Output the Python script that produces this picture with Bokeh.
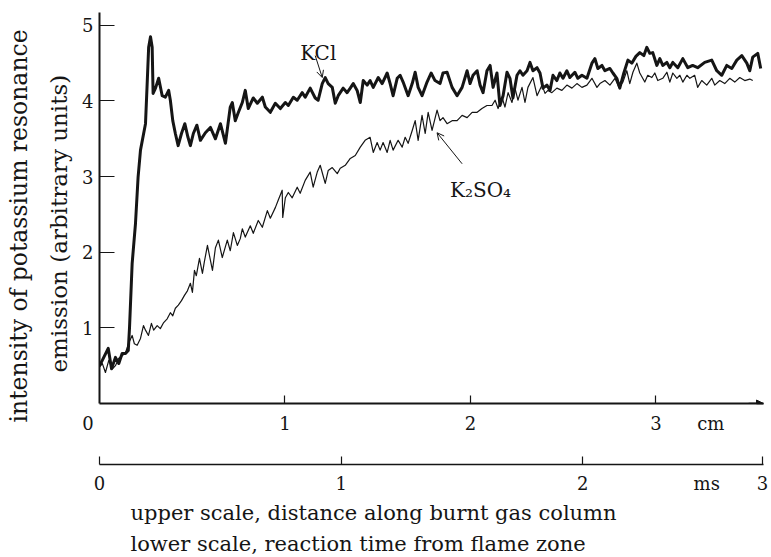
from bokeh.plotting import figure
from bokeh.models import (FixedTicker, LinearAxis, Label, Title, Arrow, NormalHead,
                          OpenHead, Range1d)
from bokeh.embed import file_html
from bokeh.resources import INLINE

# ---------------- data (distance in cm, intensity in arbitrary units) ----------------
kcl_x = [0.000, 0.015, 0.047, 0.065, 0.086, 0.104, 0.122, 0.140, 0.155, 0.162, 0.176, 0.194,
         0.208, 0.221, 0.248, 0.257, 0.265, 0.275, 0.284, 0.289, 0.302, 0.319, 0.338, 0.355,
         0.373, 0.382, 0.395, 0.409, 0.424, 0.442, 0.460, 0.477, 0.490, 0.506, 0.525, 0.544,
         0.571, 0.598, 0.625, 0.652, 0.679, 0.705, 0.716, 0.732, 0.749, 0.770, 0.786, 0.802,
         0.829, 0.851, 0.878, 0.894, 0.921, 0.948, 0.975, 1.002, 1.018, 1.045, 1.066, 1.093,
         1.109, 1.136, 1.163, 1.179, 1.201, 1.217, 1.233, 1.255, 1.271, 1.287, 1.314, 1.335,
         1.352, 1.368, 1.389, 1.406, 1.422, 1.443, 1.459, 1.476, 1.503, 1.524, 1.551, 1.567,
         1.583, 1.605, 1.621, 1.637, 1.664, 1.686, 1.702, 1.718, 1.739, 1.766, 1.788, 1.809,
         1.836, 1.852, 1.874, 1.901, 1.928, 1.955, 1.982, 1.998, 2.014, 2.036, 2.052, 2.068,
         2.089, 2.106, 2.122, 2.143, 2.159, 2.176, 2.197, 2.213, 2.229, 2.251, 2.267, 2.283,
         2.305, 2.321, 2.337, 2.359, 2.375, 2.391, 2.412, 2.429, 2.445, 2.466, 2.482, 2.499,
         2.520, 2.536, 2.563, 2.579, 2.601, 2.628, 2.655, 2.671, 2.687, 2.709, 2.725, 2.752,
         2.768, 2.789, 2.805, 2.827, 2.849, 2.870, 2.892, 2.913, 2.935, 2.951, 2.967, 2.983,
         3.005, 3.021, 3.037, 3.059, 3.075, 3.091, 3.118, 3.145, 3.172, 3.198, 3.225, 3.263,
         3.301, 3.328, 3.355, 3.382, 3.409, 3.436, 3.463, 3.490, 3.506, 3.522, 3.549, 3.565]
kcl_y = [0.50, 0.57, 0.73, 0.46, 0.61, 0.53, 0.66, 0.66, 0.70, 1.01, 1.85, 2.38,
         2.99, 3.35, 3.70, 4.23, 4.71, 4.85, 4.71, 4.10, 4.17, 4.30, 4.07, 4.05,
         4.14, 4.01, 3.74, 3.57, 3.41, 3.57, 3.70, 3.52, 3.41, 3.57, 3.68, 3.48,
         3.58, 3.65, 3.50, 3.70, 3.44, 3.92, 3.98, 3.74, 3.85, 3.98, 4.14, 3.90,
         4.04, 3.97, 4.05, 3.92, 3.85, 3.97, 3.90, 3.98, 3.94, 4.05, 4.01, 4.11,
         4.05, 4.17, 4.04, 4.01, 4.23, 4.31, 4.23, 4.18, 3.97, 4.07, 4.17, 4.11,
         4.17, 4.23, 4.14, 3.98, 4.27, 4.21, 4.27, 4.18, 4.31, 4.23, 4.37, 4.23,
         4.07, 4.30, 4.34, 4.25, 4.07, 4.23, 4.38, 4.18, 4.07, 4.25, 4.37, 4.27,
         4.23, 4.37, 4.38, 4.18, 4.07, 4.18, 4.40, 4.23, 4.34, 4.40, 4.21, 4.11,
         4.40, 4.47, 4.18, 4.37, 3.94, 4.07, 4.38, 4.30, 4.04, 4.34, 4.40, 4.34,
         4.40, 4.51, 4.40, 4.44, 4.37, 4.17, 4.21, 4.14, 4.34, 4.27, 4.37, 4.30,
         4.40, 4.31, 4.38, 4.30, 4.34, 4.30, 4.50, 4.56, 4.43, 4.47, 4.40, 4.43,
         4.37, 4.30, 4.17, 4.37, 4.54, 4.50, 4.59, 4.64, 4.60, 4.71, 4.63, 4.64,
         4.47, 4.56, 4.47, 4.51, 4.44, 4.51, 4.44, 4.56, 4.44, 4.47, 4.44, 4.51,
         4.54, 4.40, 4.34, 4.47, 4.43, 4.54, 4.60, 4.50, 4.40, 4.58, 4.63, 4.43]

k2so4_x = [0.000, 0.015, 0.032, 0.050, 0.070, 0.086, 0.104, 0.122, 0.140, 0.156, 0.176, 0.188,
           0.203, 0.221, 0.237, 0.248, 0.264, 0.280, 0.292, 0.311, 0.328, 0.346, 0.365, 0.382,
           0.395, 0.409, 0.425, 0.442, 0.458, 0.474, 0.490, 0.501, 0.512, 0.522, 0.539, 0.555,
           0.565, 0.582, 0.609, 0.625, 0.641, 0.662, 0.689, 0.705, 0.722, 0.743, 0.759, 0.770,
           0.786, 0.813, 0.829, 0.856, 0.878, 0.905, 0.921, 0.948, 0.964, 0.985, 0.988, 1.002,
           1.018, 1.039, 1.066, 1.082, 1.109, 1.136, 1.152, 1.174, 1.190, 1.217, 1.233, 1.255,
           1.282, 1.298, 1.325, 1.352, 1.379, 1.406, 1.432, 1.459, 1.476, 1.497, 1.513, 1.529,
           1.551, 1.567, 1.583, 1.610, 1.632, 1.648, 1.664, 1.686, 1.702, 1.718, 1.739, 1.756,
           1.772, 1.793, 1.820, 1.836, 1.852, 1.874, 1.901, 1.928, 1.955, 1.982, 2.009, 2.036,
           2.062, 2.089, 2.116, 2.133, 2.149, 2.170, 2.186, 2.203, 2.224, 2.240, 2.256, 2.278,
           2.294, 2.310, 2.337, 2.359, 2.386, 2.402, 2.418, 2.439, 2.466, 2.493, 2.520, 2.547,
           2.574, 2.601, 2.628, 2.655, 2.682, 2.698, 2.725, 2.752, 2.779, 2.800, 2.822, 2.843,
           2.859, 2.876, 2.897, 2.913, 2.940, 2.956, 2.978, 2.994, 3.010, 3.037, 3.059, 3.075,
           3.091, 3.113, 3.129, 3.145, 3.167, 3.183, 3.209, 3.225, 3.247, 3.274, 3.301, 3.317,
           3.344, 3.371, 3.398, 3.425, 3.452, 3.479, 3.506, 3.522]
k2so4_y = [0.48, 0.53, 0.41, 0.57, 0.46, 0.50, 0.60, 0.63, 0.67, 0.79, 0.90, 0.79,
           0.77, 0.86, 1.03, 0.97, 0.90, 1.06, 0.97, 1.03, 0.99, 1.07, 1.12, 1.20,
           1.16, 1.26, 1.30, 1.36, 1.43, 1.49, 1.59, 1.47, 1.76, 1.69, 1.92, 1.72,
           1.87, 2.09, 1.76, 2.06, 2.16, 1.93, 2.16, 2.02, 2.26, 2.09, 2.18, 2.31,
           2.20, 2.35, 2.25, 2.42, 2.33, 2.55, 2.45, 2.59, 2.69, 2.82, 2.46, 2.72,
           2.79, 2.72, 2.86, 2.78, 2.95, 3.06, 2.86, 3.06, 3.15, 2.91, 3.08, 3.12,
           3.04, 3.11, 3.15, 3.24, 3.28, 3.39, 3.48, 3.52, 3.32, 3.45, 3.35, 3.45,
           3.32, 3.48, 3.35, 3.48, 3.39, 3.52, 3.44, 3.61, 3.74, 3.48, 3.81, 3.57,
           3.85, 3.61, 3.88, 3.74, 3.78, 3.70, 3.74, 3.74, 3.81, 3.78, 3.85, 3.85,
           3.90, 3.94, 3.94, 4.01, 3.90, 4.05, 3.92, 4.11, 3.98, 4.17, 4.01, 4.18,
           3.98, 4.18, 4.31, 4.07, 4.21, 4.10, 4.14, 4.11, 4.17, 4.14, 4.21, 4.17,
           4.23, 4.18, 4.21, 4.30, 4.18, 4.23, 4.27, 4.21, 4.30, 4.18, 4.25, 4.40,
           4.23, 4.38, 4.50, 4.37, 4.25, 4.34, 4.31, 4.37, 4.27, 4.30, 4.38, 4.25,
           4.37, 4.30, 4.34, 4.25, 4.34, 4.30, 4.34, 4.18, 4.27, 4.21, 4.30, 4.21,
           4.27, 4.23, 4.30, 4.25, 4.31, 4.27, 4.29, 4.27]

y_ticks = [1, 2, 3, 4, 5]
cm_ticks = [0, 1, 2, 3]
cm_tick_labels = ["0\u2007\u2007", "1", "2", "3"]   # the origin "0" sits left of the corner
cm_unit_pos = 3.296                           # where the "cm" unit text sits
ms_tick_pos_cm = [0.0, 1.303, 2.606, 3.575]   # lower scale ticks, placed on the cm axis
ms_tick_labels = ["0", "1", "2", "3"]
ms_unit_pos = 3.274                           # where the "ms" unit text sits

SERIF = "DejaVu Serif"
INK = "#151515"

p = figure(width=771, height=557, output_backend="svg", toolbar_location=None,
           x_range=Range1d(0, 3.58), y_range=Range1d(0, 5.17),
           min_border_left=99, min_border_right=8, min_border_top=12, min_border_bottom=0)
p.grid.visible = False
p.outline_line_color = None

# y axis
ya = p.yaxis[0]
ya.ticker = FixedTicker(ticks=y_ticks)
ya.major_tick_in = 15
ya.major_tick_out = 0
ya.minor_tick_line_color = None
ya.axis_line_width = 2
ya.axis_line_color = INK
ya.major_tick_line_color = INK
ya.major_label_text_font = SERIF
ya.major_label_text_font_size = "18px"
ya.major_label_text_color = INK
ya.major_label_standoff = 6


def style_scale(ax, line_width):
    ax.major_tick_in = 0
    ax.major_tick_out = 0
    ax.minor_tick_in = 8
    ax.minor_tick_out = 0
    ax.minor_tick_line_color = INK
    ax.minor_tick_line_width = 1.2
    ax.axis_line_width = line_width
    ax.axis_line_color = INK
    ax.major_label_text_font = SERIF
    ax.major_label_text_font_size = "18px"
    ax.major_label_text_color = INK


# upper x scale (cm): tick marks drawn as minor ticks, labels (incl. unit) as major labels
xa = p.xaxis[0]
xa.ticker = FixedTicker(ticks=cm_ticks + [cm_unit_pos], minor_ticks=cm_ticks[1:])
xa.major_label_overrides = dict(zip(cm_ticks + [cm_unit_pos], cm_tick_labels + ["cm"]))
style_scale(xa, 2)
xa.major_label_standoff = 9
xa.axis_label = " "
xa.axis_label_standoff = 4
xa.axis_label_text_font_size = "19px"

# lower x scale (ms)
ms_axis = LinearAxis(ticker=FixedTicker(ticks=ms_tick_pos_cm + [ms_unit_pos],
                                        minor_ticks=ms_tick_pos_cm),
                     major_label_overrides=dict(zip(ms_tick_pos_cm + [ms_unit_pos],
                                                    ms_tick_labels + ["ms"])))
style_scale(ms_axis, 1.5)
ms_axis.major_label_standoff = 8
p.add_layout(ms_axis, "below")

# captions
for txt, so in [("upper scale, distance along burnt gas column", 5),
                ("lower scale, reaction time from flame zone", 4)]:
    t = Title(text=txt, align="left", offset=31, text_font=SERIF, text_font_size="21px",
              text_font_style="normal", text_color=INK, standoff=so)
    p.add_layout(t, "below")

# y axis label (two lines)
for txt, off, so, fs in [("emission (arbitrary units)", 31, 16, "23px"),
                         ("intensity of potassium resonance", -19, 5, "23.5px")]:
    t = Title(text=txt, align="left", offset=off, text_font=SERIF, text_font_size=fs,
              text_font_style="normal", text_color=INK, standoff=so)
    p.add_layout(t, "left")

# curves
p.line(k2so4_x, k2so4_y, line_color=INK, line_width=1.2, line_join="round")
p.line(kcl_x, kcl_y, line_color=INK, line_width=3, line_join="round")

# arrow at the end of the cm scale
p.add_layout(Arrow(end=NormalHead(size=7, fill_color=INK, line_color=INK),
                   x_start=3.50, y_start=0, x_end=3.58, y_end=0,
                   line_color=INK, line_width=1.5))

# curve labels
p.add_layout(Label(x=1.082, y=4.64, text="KCl", text_font=SERIF, text_font_size="20px",
                   text_color=INK, text_baseline="alphabetic"))
p.add_layout(Arrow(end=OpenHead(size=7, line_color=INK, line_width=1),
                   x_start=1.163, y_start=4.60, x_end=1.201, y_end=4.31,
                   line_color=INK, line_width=1))
p.add_layout(Label(x=1.890, y=2.82, text="K₂SO₄", text_font=SERIF, text_font_size="20px",
                   text_color=INK, text_baseline="alphabetic"))
p.add_layout(Arrow(end=OpenHead(size=7, line_color=INK, line_width=1),
                   x_start=1.955, y_start=3.17, x_end=1.820, y_end=3.58,
                   line_color=INK, line_width=1))

open("out.html", "w").write(file_html(p, INLINE))
